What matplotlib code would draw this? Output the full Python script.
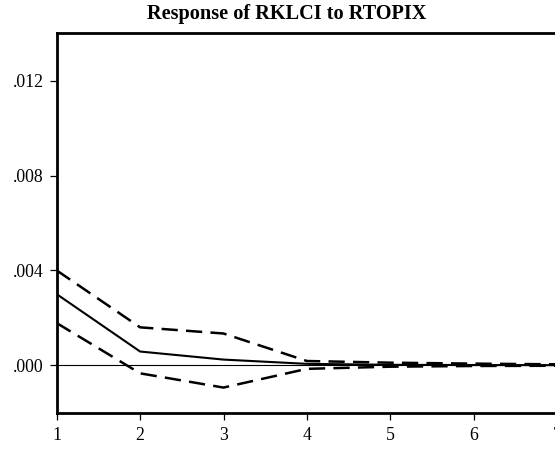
import matplotlib
matplotlib.use("Agg")
import matplotlib.pyplot as plt
import numpy as np

periods = [1, 2, 3, 4, 5, 6, 7, 8, 9, 10]
response = [0.0030, 0.00058, 0.00024, 0.00006, 0.00002, 0.00001, 0.000005, 0.000002, 0.000001, 0.0]
upper = [0.0040, 0.0016, 0.00134, 0.00018, 0.00011, 0.00007, 0.00004, 0.00003, 0.00002, 0.00001]
lower = [0.00178, -0.00034, -0.00094, -0.00015, -0.00006, -0.00003, -0.00002, -0.00001, -0.00001, 0.0]
xtick_labels = ["1", "2", "3", "4", "5", "6", "7", "", "", ""]
yticks = [0.000, 0.004, 0.008, 0.012]
ytick_labels = [".000", ".004", ".008", ".012"]
title = "Response of RKLCI to RTOPIX"

plt.rcParams['font.family'] = ['Liberation Serif', 'DejaVu Serif']

W, H = 555, 450
fig = plt.figure(figsize=(W / 100, H / 100), dpi=100)
left = 56.7 / W
bottom = 1 - 412.7 / H
top = 1 - 33.3 / H
width = 9 * 83.4 / W
ax = fig.add_axes([left, bottom, width, top - bottom])

ax.axhline(0, color='black', lw=0.8, zorder=1)
ax.plot(periods, response, color='black', lw=1.5, zorder=3)
ax.plot(periods, upper, color='black', lw=1.8, dashes=(6.5, 3.3), zorder=2)
ax.plot(periods, lower, color='black', lw=1.8, dashes=(6.5, 3.3), zorder=2)

ax.set_xlim(1, 10)
ax.set_ylim(-0.002, 0.014)
ax.set_xticks(periods)
ax.set_xticklabels(xtick_labels)
ax.set_yticks(yticks)
ax.set_yticklabels(ytick_labels)

for s in ax.spines.values():
    s.set_linewidth(2.0)
ax.tick_params(axis='both', direction='out', length=5, width=0.9, labelsize=12.8)
ax.tick_params(axis='y', pad=4.5)
ax.tick_params(axis='x', pad=5.5)

fig.text(287 / W, 1 - 14 / H, title, ha='center', va='center',
         fontsize=14.6, fontweight='bold')

fig.savefig("out.png", dpi=100)
